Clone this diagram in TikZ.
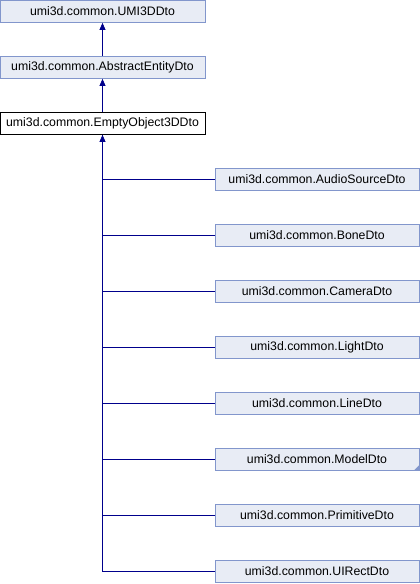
\documentclass[tikz,border=0pt]{standalone}
\usepackage{fontspec}
\setmainfont{Liberation Sans}
\usetikzlibrary{arrows.meta}
\definecolor{boxfill}{RGB}{232,236,245}
\definecolor{boxline}{RGB}{130,150,204}
\definecolor{edgeblue}{RGB}{0,0,140}
\tikzset{
  cls/.style={draw=boxline,fill=boxfill,line width=0.8pt,minimum height=22pt,
    inner sep=0pt,font=\fontsize{12.3}{14}\selectfont},
  base/.style={cls,minimum width=205pt},
  child/.style={cls,minimum width=204pt},
  current/.style={base,draw=black,fill=white},
  edge/.style={draw=edgeblue,line width=0.8pt},
}
\begin{document}
\begin{tikzpicture}[>={Triangle[length=7pt,width=6pt]},x=1pt,y=-1pt]
  \useasboundingbox (0,0) rectangle (420,584);

  % base classes
  \node[base] (umi) at (102.5,11.5) {umi3d.common.UMI3DDto};
  \node[base] (abstract) at (102.5,67.5) {umi3d.common.AbstractEntityDto};
  \node[current] (empty) at (102.5,123.5) {umi3d.common.EmptyObject3DDto};

  \draw[edge,->] (abstract) -- (umi);
  \draw[edge,->] (empty) -- (abstract);

  % derived classes
  \node[child] (audio) at (317,179.5) {umi3d.common.AudioSourceDto};
  \node[child] (bone) at (317,235.5) {umi3d.common.BoneDto};
  \node[child] (camera) at (317,291.5) {umi3d.common.CameraDto};
  \node[child] (light) at (317,347.5) {umi3d.common.LightDto};
  \node[child] (line) at (317,403.5) {umi3d.common.LineDto};
  \node[child] (model) at (317,459.5) {umi3d.common.ModelDto};
  \node[child] (primitive) at (317,515.5) {umi3d.common.PrimitiveDto};
  \node[child] (uirect) at (317,571.5) {umi3d.common.UIRectDto};

  % more subclasses marker
  \fill[boxline] (model.south east) -- ++(-6,0) -- ++(6,-6) -- cycle;

  \draw[edge,->] (uirect.west) -| (empty.south);
  \foreach \c in {audio,bone,camera,light,line,model,primitive}
    \draw[edge] (\c.west) -| (empty.south);
\end{tikzpicture}
\end{document}
